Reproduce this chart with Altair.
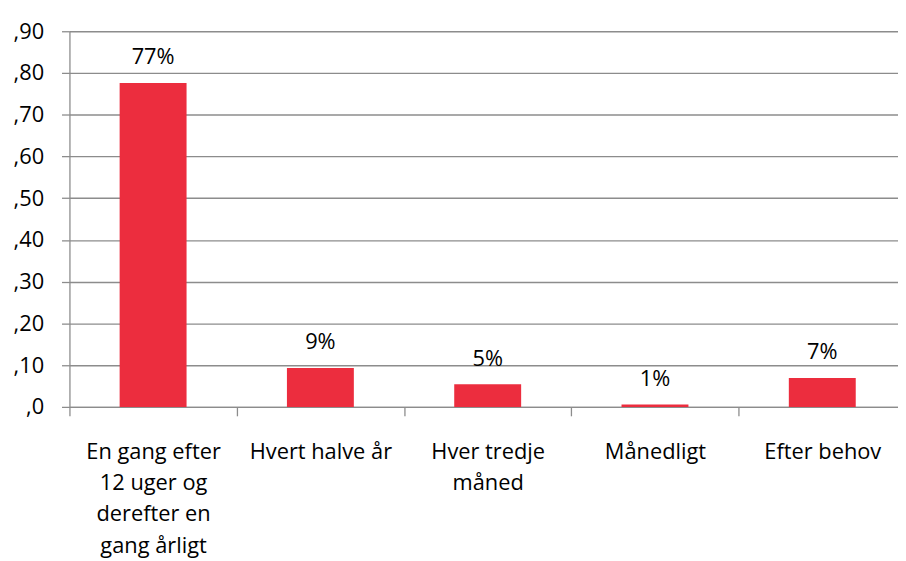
import altair as alt
import pandas as pd

categories = [
    "En gang efter 12 uger og derefter en gang årligt",
    "Hvert halve år",
    "Hver tredje måned",
    "Månedligt",
    "Efter behov",
]
label_lines = [
    ["En gang efter", "12 uger og", "derefter en", "gang årligt"],
    ["Hvert halve år"],
    ["Hver tredje", "måned"],
    ["Månedligt"],
    ["Efter behov"],
]
values = [0.776, 0.093, 0.054, 0.006, 0.069]
value_labels = ["77%", "9%", "5%", "1%", "7%"]
y_ticks = [0, 0.1, 0.2, 0.3, 0.4, 0.5, 0.6, 0.7, 0.8, 0.9]

df = pd.DataFrame({"cat": categories, "val": values, "lbl": value_labels})

# build label expression mapping each category to its wrapped lines
expr = "''"
for c, lines in reversed(list(zip(categories, label_lines))):
    arr = "[" + ",".join("'" + l + "'" for l in lines) + "]"
    expr = f"datum.label == '{c}' ? {arr} : ({expr})"

FONT = "Open Sans"
FS = 22
GRAY = "#8c8c8c"

x = alt.X(
    "cat:N",
    sort=categories,
    title=None,
    scale=alt.Scale(paddingInner=0, paddingOuter=0, range=[0, 844]),
    axis=alt.Axis(
        labelAngle=0,
        labelExpr=expr,
        labelFont=FONT,
        labelFontSize=FS,
        labelColor="#000000",
        labelLineHeight=31.5,
        labelPadding=26,
        tickBand="extent",
        tickSize=9,
        tickColor=GRAY,
        domainColor=GRAY,
        labelLimit=300,
    ),
)
y = alt.Y(
    "val:Q",
    title=None,
    scale=alt.Scale(domain=[0, 0.9], nice=False),
    axis=alt.Axis(
        values=y_ticks,
        labelExpr="datum.value == 0 ? ',0' : replace(format(datum.value, '.2f'), '0.', ',')",
        labelFont=FONT,
        labelFontSize=FS,
        labelColor="#000000",
        labelPadding=18,
        tickSize=8,
        tickColor=GRAY,
        domainColor=GRAY,
        gridColor=GRAY,
        grid=True,
    ),
)

bars = alt.Chart(df).mark_bar(
    color="#EC2D3E", width=alt.RelativeBandSize(0.4)
).encode(x=x, y=y)
texts = alt.Chart(df).mark_text(
    font=FONT, fontSize=FS, color="#000000", baseline="alphabetic", dy=-19
).encode(x=alt.X("cat:N", sort=categories), y="val:Q", text="lbl:N")

chart = (
    alt.layer(bars, texts)
    .properties(
        width=836,
        height=379,
        autosize=alt.AutoSizeParams(type="none"),
        padding={"left": 62, "top": 21, "right": 0, "bottom": 150},
    )
    .configure_view(stroke=None)
    .configure_axis(gridWidth=1.3, domainWidth=1.3, tickWidth=1.3)
)

chart.save("out.html", embed_options={"renderer": "svg", "actions": False})
